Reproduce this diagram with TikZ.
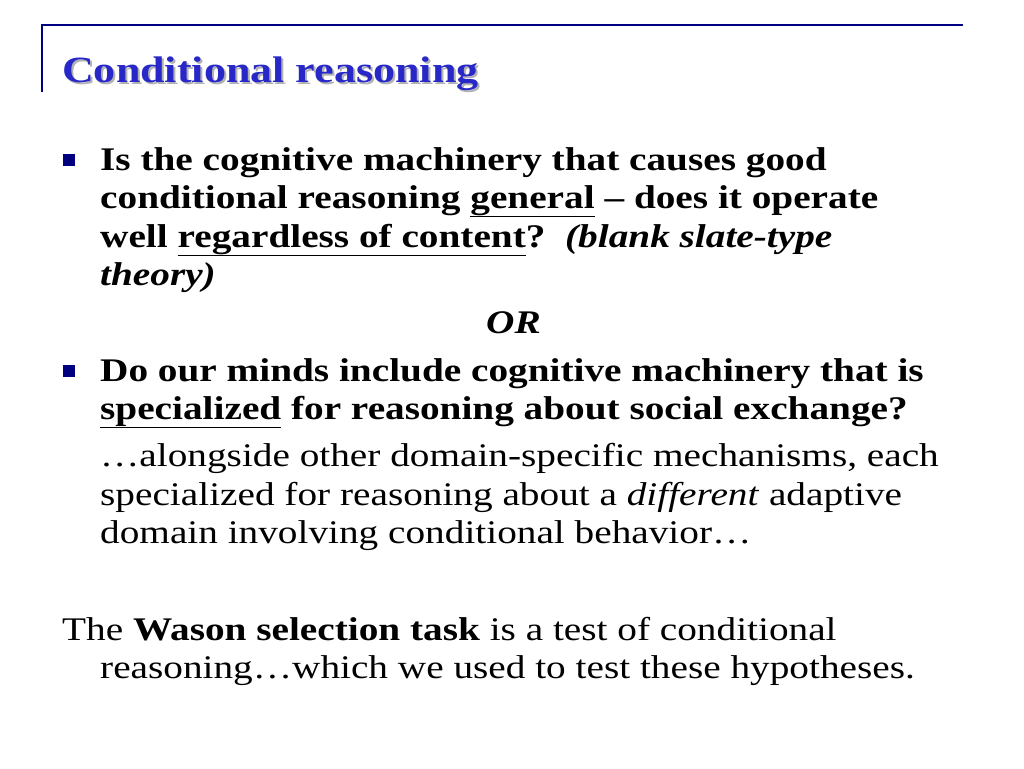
\documentclass[tikz,border=0pt]{standalone}
\usepackage{fontspec}
\setmainfont{Liberation Serif}[FakeStretch=1.19]
\definecolor{tblue}{RGB}{40,40,200}
\definecolor{navy}{RGB}{0,0,128}
\begin{document}
\begin{tikzpicture}[x=1pt,y=-1pt,
  ln/.style={anchor=base west,inner sep=0pt,font=\fontsize{33}{38}\selectfont},
  bul/.style={fill=navy,minimum size=12pt,inner sep=0pt}]
\useasboundingbox (0,0) rectangle (1024,768);
\draw[navy,line width=1.2pt] (42,92) -- (42,25) -- (963,25);
\node[ln,font=\fontsize{37}{40}\bfseries\selectfont,text=gray!60] (tsh) at (64,84) {Conditional reasoning};
\node[ln,font=\fontsize{37}{40}\bfseries\selectfont,text=tblue] (t) at (62,82) {Conditional reasoning};
\node[bul] (b1) at (69,160) {};
\node[bul] (b2) at (69,371) {};
\node[ln] (l1) at (100,170) {\bfseries Is the cognitive machinery that causes good};
\node[ln] (l2) at (100,208) {\bfseries conditional reasoning \underline{general} -- does it operate};
\node[ln] (l3) at (100,247) {\bfseries well \underline{regardless of content}?\ \ \textit{(blank slate-type}};
\node[ln] (l4) at (100,285) {\bfseries\itshape theory)};
\node[ln] (or) at (486,333) {\bfseries\itshape OR};
\node[ln] (l5) at (100,381) {\bfseries Do our minds include cognitive machinery that is};
\node[ln] (l6) at (100,419) {\bfseries \underline{specialized} for reasoning about social exchange?};
\node[ln] (l7) at (100,466) {\ldots alongside other domain-specific mechanisms, each};
\node[ln] (l8) at (100,505) {specialized for reasoning about a \textit{different} adaptive};
\node[ln] (l9) at (100,543) {domain involving conditional behavior\ldots};
\node[ln] (l10) at (62,640) {The \textbf{Wason selection task} is a test of conditional};
\node[ln] (l11) at (100,678) {reasoning\ldots which we used to test these hypotheses.};
\end{tikzpicture}
\end{document}
